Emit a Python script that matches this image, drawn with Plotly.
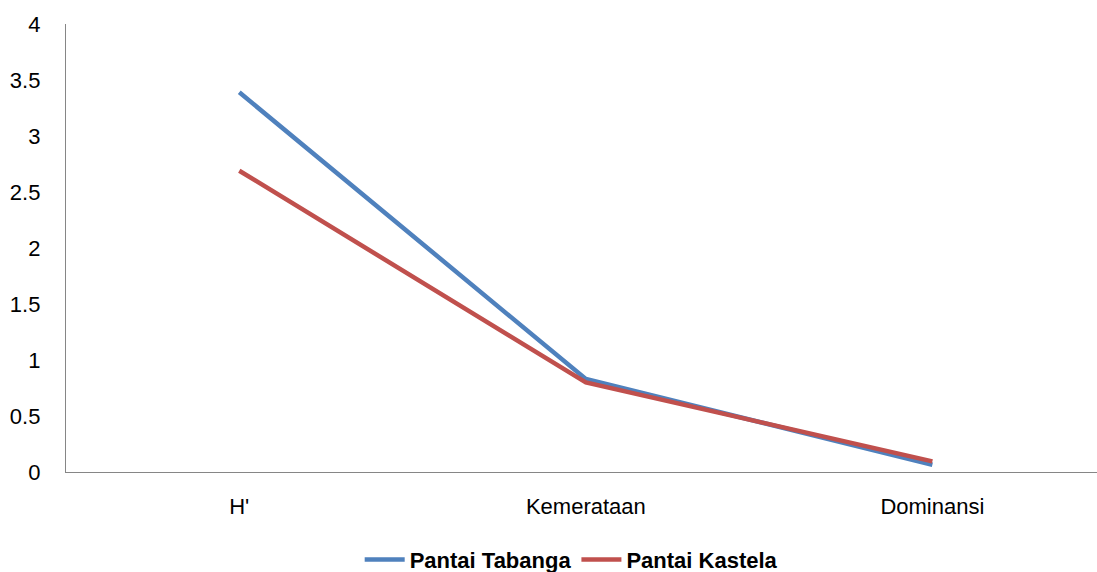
import plotly.graph_objects as go

categories = ["H'", "Kemerataan", "Dominansi"]
tabanga = [3.39, 0.83, 0.065]
kastela = [2.69, 0.80, 0.095]
y_ticks = [0, 0.5, 1, 1.5, 2, 2.5, 3, 3.5, 4]
y_labels = ["0", "0.5", "1", "1.5", "2", "2.5", "3", "3.5", "4"]

fig = go.Figure()
fig.add_trace(go.Scatter(x=categories, y=tabanga, mode="lines", name="Pantai Tabanga",
                         line=dict(color="#4F81BD", width=4.5)))
fig.add_trace(go.Scatter(x=categories, y=kastela, mode="lines", name="Pantai Kastela",
                         line=dict(color="#C0504D", width=4.5)))

fig.update_layout(
    width=1097, height=572,
    margin=dict(l=66, r=0, t=24, b=100, autoexpand=False),
    paper_bgcolor="white", plot_bgcolor="white",
    font=dict(family="Liberation Sans, Arial, sans-serif", size=22, color="#000000"),
    showlegend=True,
    legend=dict(orientation="h", x=0.49, xanchor="center", y=-0.196, yanchor="middle",
                font=dict(size=22, family="Liberation Sans, Arial, sans-serif", color="#000000", weight="bold"),
                itemwidth=40, tracegroupgap=0),
    xaxis=dict(type="category", range=[-0.5, 2.475], showgrid=False, zeroline=False,
               showline=True, linecolor="#868686", linewidth=1.3, ticks="",
               ticklabelstandoff=14, tickfont=dict(size=22)),
    yaxis=dict(range=[0, 4], tickvals=y_ticks, ticktext=y_labels, showgrid=False, zeroline=False,
               showline=True, linecolor="#868686", linewidth=1.3, ticks="",
               ticklabelstandoff=20, tickfont=dict(size=22)),
)

fig.write_html("out.html",
               post_script="document.body.style.margin='0';document.body.style.overflow='hidden';")
